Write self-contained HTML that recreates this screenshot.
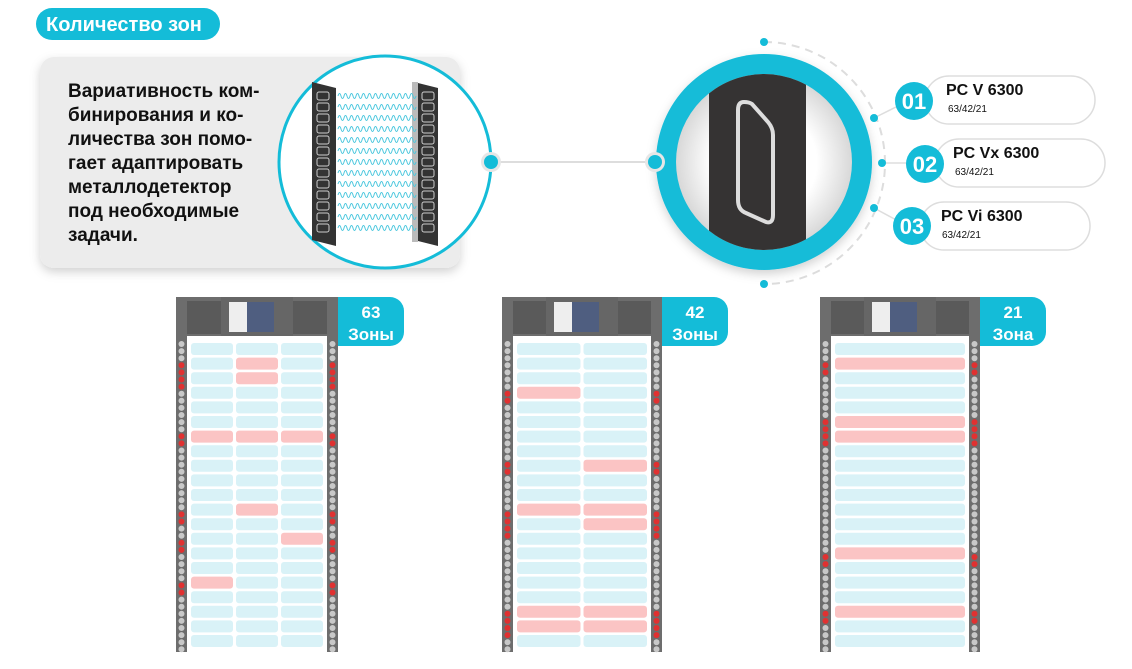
<!DOCTYPE html>
<html><head><meta charset="utf-8"><style>
body{margin:0;width:1132px;height:669px;overflow:hidden;background:#fff;font-family:"Liberation Sans",sans-serif}
svg{display:block}
</style></head><body>
<svg id="s" width="1132" height="669" xmlns="http://www.w3.org/2000/svg">
<defs>
<filter id="sh" x="-10%" y="-10%" width="120%" height="130%"><feDropShadow dx="0" dy="4" stdDeviation="5" flood-color="#000" flood-opacity="0.18"/></filter>
<radialGradient id="wg" cx="50%" cy="50%" r="50%"><stop offset="60%" stop-color="#fff"/><stop offset="100%" stop-color="#d8d8d8"/></radialGradient>
</defs>
<rect x="36" y="8" width="184" height="32" rx="16" fill="#14bcd8"/>
<text x="46" y="31" font-size="20" font-weight="bold" fill="#fff">Количество зон</text>
<rect x="40" y="57" width="420" height="211" rx="14" fill="#ececec" filter="url(#sh)"/>
<g font-size="19" font-weight="bold" fill="#111">
<text x="68" y="97">Вариативность ком-</text>
<text x="68" y="121">бинирования и ко-</text>
<text x="68" y="145">личества зон помо-</text>
<text x="68" y="169">гает адаптировать</text>
<text x="68" y="193">металлодетектор</text>
<text x="68" y="217">под необходимые</text>
<text x="68" y="241">задачи.</text>
</g>
<circle cx="385" cy="162" r="106" fill="#fff" stroke="#14bcd8" stroke-width="3"/>
<g id="panel"></g>
<line x1="491" y1="162" x2="655" y2="162" stroke="#ddd" stroke-width="2"/>
<circle cx="491" cy="162" r="10" fill="#e6e6e6"/><circle cx="491" cy="162" r="7" fill="#14bcd8"/>
<path d="M764 42 A121 121 0 0 1 764 284" fill="none" stroke="#ddd" stroke-width="2" stroke-dasharray="8 6"/>
<circle cx="764" cy="42" r="4" fill="#14bcd8"/><circle cx="764" cy="284" r="4" fill="#14bcd8"/>
<circle cx="764" cy="162" r="108" fill="#14bcd8" filter="url(#sh)"/>
<circle cx="764" cy="162" r="88" fill="url(#wg)"/>
<clipPath id="cc"><circle cx="764" cy="162" r="88"/></clipPath>
<rect x="709" y="60" width="97" height="210" fill="#353333" clip-path="url(#cc)"/>
<path d="M744 102 Q738 102 738 110 L738 200 Q738 210 746 213 L766 222 Q773 224 773 215 L773 135 Q773 128 768 122 L752 104 Q749 102 744 102Z" fill="none" stroke="#ddd" stroke-width="4"/>
<circle cx="655" cy="162" r="10" fill="#e6e6e6"/><circle cx="655" cy="162" r="7" fill="#14bcd8"/>
<g stroke="#ddd" stroke-width="1.5" fill="#fff">
<line x1="874" y1="118" x2="900" y2="105"/><line x1="882" y1="163" x2="910" y2="163"/><line x1="874" y1="208" x2="900" y2="222"/>
<rect x="925" y="76" width="170" height="48" rx="24"/>
<rect x="935" y="139" width="170" height="48" rx="24"/>
<rect x="920" y="202" width="170" height="48" rx="24"/>
</g>
<g fill="#14bcd8"><circle cx="874" cy="118" r="4"/><circle cx="882" cy="163" r="4"/><circle cx="874" cy="208" r="4"/>
<circle cx="914" cy="101" r="19"/><circle cx="925" cy="164" r="19"/><circle cx="912" cy="226" r="19"/></g>
<g fill="#fff" font-size="22" font-weight="bold" text-anchor="middle">
<text x="914" y="109">01</text><text x="925" y="172">02</text><text x="912" y="234">03</text></g>
<g fill="#111"><g font-size="16" font-weight="bold"><text x="946" y="95">PC V 6300</text><text x="953" y="158">PC Vx 6300</text><text x="941" y="221">PC Vi 6300</text></g>
<g font-size="10"><text x="948" y="112">63/42/21</text><text x="955" y="175">63/42/21</text><text x="942" y="238">63/42/21</text></g></g>
<g id="gates"></g>
</svg>
<script>
var NS="http://www.w3.org/2000/svg",g=document.getElementById('gates'),h='';
// panel illustration
var p='<polygon points="312,82 336,88 336,246 312,240" fill="#333"/><polygon points="414,82 438,88 438,246 414,240" fill="#333"/><rect x="412" y="82" width="6" height="160" fill="#bbb"/>';
for(var i=0;i<13;i++){var y=92+i*11;p+='<rect x="317" y="'+y+'" width="12" height="8" rx="2" fill="none" stroke="#ccc"/><rect x="422" y="'+y+'" width="12" height="8" rx="2" fill="none" stroke="#ccc"/>';
var d='M338 '+(y+4);for(var x=338;x<412;x+=6)d+=' q1.5 -5 3 0 q1.5 5 3 0';p+='<path d="'+d+'" fill="none" stroke="#4cc7de" stroke-width="1"/>';}
document.getElementById('panel').innerHTML=p;
function gate(x0,w,cols,reds,lab1,lab2){
 var s='';
 s+='<rect x="'+x0+'" y="297" width="'+w+'" height="355" fill="#6d6d6d"/>';
 s+='<rect x="'+(x0+11)+'" y="336" width="'+(w-22)+'" height="316" fill="#fff"/>';
 s+='<rect x="'+(x0+11)+'" y="301" width="'+(w-22)+'" height="33" fill="#5a5a5a"/>';
 var cx=x0+w/2;
 s+='<rect x="'+(cx-36)+'" y="297" width="72" height="39" fill="#666"/><rect x="'+(cx-28)+'" y="302" width="18" height="30" fill="#eee"/><rect x="'+(cx-10)+'" y="302" width="27" height="30" fill="#4f5e80"/>';
 s+='<path d="M'+(x0+w)+' 297 h52 a14 14 0 0 1 14 14 v21 a14 14 0 0 1 -14 14 h-52z" fill="#14bcd8"/>';
 s+='<text x="'+(x0+w+33)+'" y="318" fill="#fff" font-size="17" font-weight="bold" text-anchor="middle">'+lab1+'</text><text x="'+(x0+w+33)+'" y="340" fill="#fff" font-size="17" font-weight="bold" text-anchor="middle">'+lab2+'</text>';
 var inner=w-22-8, cw=(inner-(cols-1)*3)/cols;
 var redRows={};
 for(var r=0;r<21;r++)for(var c=0;c<cols;c++){var red=reds.some(function(a){return a[0]==r&&a[1]==c});if(red)redRows[r]=1;
  s+='<rect x="'+(x0+15+c*(cw+3))+'" y="'+(343+r*14.6)+'" width="'+cw+'" height="12" rx="3" fill="'+(red?'#fbc4c4':'#d9f2f7')+'"/>';}
 for(var k=0;k<44;k++){var yy=344+k*7.1,rr=Math.floor(k/2.1);var col=redRows[rr]?'#e03131':'#c8c8c8';
  s+='<circle cx="'+(x0+5.5)+'" cy="'+yy+'" r="3" fill="'+col+'"/><circle cx="'+(x0+w-5.5)+'" cy="'+yy+'" r="3" fill="'+col+'"/>';}
 return s;}
h+=gate(176,162,3,[[1,1],[2,1],[6,0],[6,1],[6,2],[11,1],[13,2],[16,0]],'63','Зоны');
h+=gate(502,160,2,[[3,0],[8,1],[11,0],[11,1],[12,1],[18,0],[18,1],[19,0],[19,1]],'42','Зоны');
h+=gate(820,160,1,[[1,0],[5,0],[6,0],[14,0],[18,0]],'21','Зона');
g.innerHTML=h;
</script>
</body></html>
